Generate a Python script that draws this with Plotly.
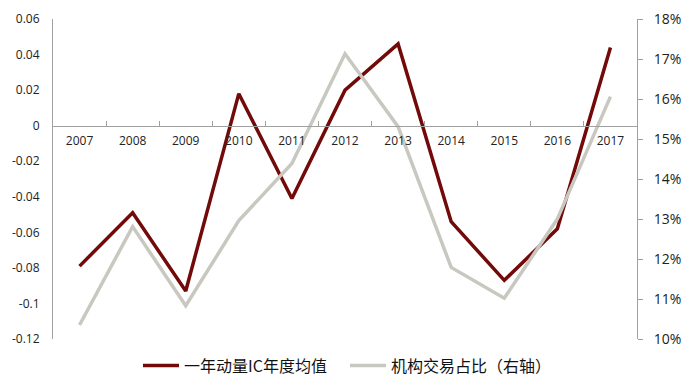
import plotly.graph_objects as go

years = ["2007", "2008", "2009", "2010", "2011", "2012", "2013", "2014", "2015", "2016", "2017"]
ic_mean = [-0.079, -0.049, -0.093, 0.018, -0.041, 0.020, 0.046, -0.054, -0.087, -0.058, 0.044]
inst_share = [10.35, 12.81, 10.83, 12.96, 14.39, 17.13, 15.31, 11.79, 11.02, 13.0, 16.06]

left_ticks = [0.06, 0.04, 0.02, 0, -0.02, -0.04, -0.06, -0.08, -0.1, -0.12]
left_text = ["0.06", "0.04", "0.02", "0", "-0.02", "-0.04", "-0.06", "-0.08", "-0.1", "-0.12"]
right_ticks = [10, 11, 12, 13, 14, 15, 16, 17, 18]
right_text = [f"{v}%" for v in right_ticks]

name1 = "一年动量IC年度均值"
name2 = "机构交易占比（右轴）"

fig = go.Figure()
fig.add_trace(go.Scatter(x=years, y=ic_mean, mode="lines", name=name1,
                         line=dict(color="#730a0a", width=3.5), yaxis="y"))
fig.add_trace(go.Scatter(x=years, y=inst_share, mode="lines", name=name2,
                         line=dict(color="#c8c8c0", width=3.5), yaxis="y2"))

axis_color = "#a0a0a0"
font_fam = "Open Sans, Liberation Sans, sans-serif"

# page body has an 8px margin, so the figure is sized/offset to compensate
fig.update_layout(
    width=692, height=377,
    margin=dict(l=45, r=63, t=11, b=46, autoexpand=False),
    paper_bgcolor="white", plot_bgcolor="white",
    showlegend=True,
    legend=dict(orientation="h", x=0.5, xanchor="center", y=-0.03, yanchor="top",
                font=dict(family="Noto Sans CJK SC", size=16, color="#111"),
                itemwidth=36, entrywidthmode="pixels", entrywidth=156),
    xaxis=dict(type="category", range=[-0.5, 10.5], anchor="free", position=0.12 / 0.18,
               showline=True, linecolor=axis_color, linewidth=1,
               ticks="inside", ticklen=5, tickcolor=axis_color, tickson="boundaries",
               showgrid=False, zeroline=False,
               tickfont=dict(family=font_fam, size=12, color="#222"),
               ticklabelstandoff=4),
    yaxis=dict(range=[-0.12, 0.06], tickvals=left_ticks, ticktext=left_text,
               showline=True, linecolor=axis_color, linewidth=1, ticks="",
               showgrid=False, zeroline=False,
               tickfont=dict(family=font_fam, size=12, color="#222"), ticklabelstandoff=10),
    yaxis2=dict(range=[10, 18], tickvals=right_ticks, ticktext=right_text, overlaying="y", side="right",
                showline=True, linecolor=axis_color, linewidth=1, ticks="outside", ticklen=5,
                tickcolor=axis_color, showgrid=False, zeroline=False,
                tickfont=dict(family=font_fam, size=14, color="#222"),
                ticklabelstandoff=8),
)

fig.write_html("out.html")
